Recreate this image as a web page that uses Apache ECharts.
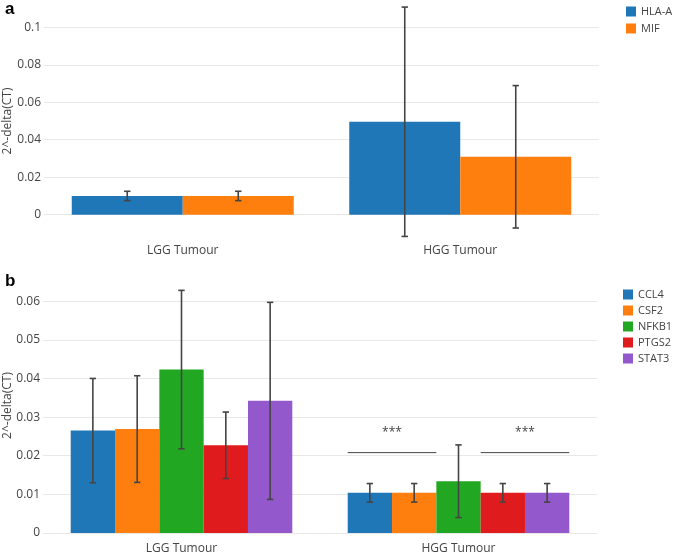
<!DOCTYPE html>
<html>
<head>
<meta charset="utf-8">
<script src="https://cdn.jsdelivr.net/npm/echarts@6/dist/echarts.min.js"></script>
<style>
html,body{margin:0;padding:0;background:#fff;}
#chart{width:676px;height:554px;}
</style>
</head>
<body>
<div id="chart"></div>
<script>
// ---- Data ----
const categoriesA = ['LGG Tumour', 'HGG Tumour'];
const seriesNamesA = ['HLA-A', 'MIF'];
const hlaA = [0.0100, 0.0496];
const hlaAErr = [0.0025, 0.0612];
const mif = [0.0100, 0.0309];
const mifErr = [0.0025, 0.0380];

const categoriesB = ['LGG Tumour', 'HGG Tumour'];
const seriesNamesB = ['CCL4', 'CSF2', 'NFKB1', 'PTGS2', 'STAT3'];
const ccl4 = [0.0265, 0.0104];
const ccl4Err = [0.0135, 0.0024];
const csf2 = [0.0269, 0.0104];
const csf2Err = [0.0138, 0.0024];
const nfkb1 = [0.0423, 0.0134];
const nfkb1Err = [0.0205, 0.0094];
const ptgs2 = [0.0227, 0.0104];
const ptgs2Err = [0.0086, 0.0024];
const stat3 = [0.0342, 0.0104];
const stat3Err = [0.0255, 0.0024];

// significance brackets: [category index, first bar, last bar, level]
const sigBrackets = [[1, 0, 1, 0.0208], [1, 3, 4, 0.0208]];
const sigLabel = '***';

const yTickLabelsA = ['0', '0.02', '0.04', '0.06', '0.08', '0.1'];
const yTickLabelsB = ['0', '0.01', '0.02', '0.03', '0.04', '0.05', '0.06'];

// ---- Styling ----
const colorsA = ['#1f77b8', '#ff7f0e'];
const colorsB = ['#1f77b8', '#ff7f0e', '#22a722', '#e01b1d', '#9358cb'];
const FONT = '"Open Sans", "DejaVu Sans", sans-serif';
const ERR_COLOR = '#444';

function errRender(nBars, barIdx) {
  return function (params, api) {
    const ci = api.value(0), v = api.value(1), e = api.value(2);
    const c = api.coord([ci, v]);
    const band = api.size([1, 0])[0];
    const bw = band * 0.8 / nBars;
    const x = c[0] + (barIdx - (nBars - 1) / 2) * bw;
    const yt = api.coord([ci, v + e])[1];
    const yb = api.coord([ci, v - e])[1];
    const st = {stroke: ERR_COLOR, lineWidth: 1.6};
    const cap = 3.2;
    return {type: 'group', children: [
      {type: 'line', shape: {x1: x, y1: yt, x2: x, y2: yb}, style: st},
      {type: 'line', shape: {x1: x - cap, y1: yt, x2: x + cap, y2: yt}, style: st},
      {type: 'line', shape: {x1: x - cap, y1: yb, x2: x + cap, y2: yb}, style: st}
    ]};
  };
}

function sigRender(nBars) {
  return function (params, api) {
    const ci = api.value(0), b0 = api.value(1), b1 = api.value(2), lv = api.value(3);
    const c = api.coord([ci, lv]);
    const band = api.size([1, 0])[0];
    const bw = band * 0.8 / nBars;
    const left = c[0] - band * 0.4;
    const x1 = left + b0 * bw, x2 = left + (b1 + 1) * bw;
    return {type: 'group', children: [
      {type: 'line', shape: {x1: x1, y1: c[1], x2: x2, y2: c[1]}, style: {stroke: '#444', lineWidth: 1}},
      {type: 'text', style: {text: sigLabel, x: (x1 + x2) / 2, y: c[1] - 20, textAlign: 'center', textVerticalAlign: 'middle', fill: '#444', font: '12px ' + FONT}}
    ]};
  };
}

const series = [];
const valsA = [hlaA, mif], errsA = [hlaAErr, mifErr];
seriesNamesA.forEach((n, i) => {
  series.push({name: n, type: 'bar', xAxisIndex: 0, yAxisIndex: 0, data: valsA[i],
    barGap: '0%', barCategoryGap: '20%', itemStyle: {color: colorsA[i]}, silent: true});
});
seriesNamesA.forEach((n, i) => {
  series.push({type: 'custom', xAxisIndex: 0, yAxisIndex: 0, z: 5, silent: true,
    renderItem: errRender(seriesNamesA.length, i),
    data: categoriesA.map((c, k) => [k, valsA[i][k], errsA[i][k]])});
});
const valsB = [ccl4, csf2, nfkb1, ptgs2, stat3], errsB = [ccl4Err, csf2Err, nfkb1Err, ptgs2Err, stat3Err];
seriesNamesB.forEach((n, i) => {
  series.push({name: n, type: 'bar', xAxisIndex: 1, yAxisIndex: 1, data: valsB[i],
    barGap: '0%', barCategoryGap: '20%', itemStyle: {color: colorsB[i]}, silent: true});
});
seriesNamesB.forEach((n, i) => {
  series.push({type: 'custom', xAxisIndex: 1, yAxisIndex: 1, z: 5, silent: true,
    renderItem: errRender(seriesNamesB.length, i),
    data: categoriesB.map((c, k) => [k, valsB[i][k], errsB[i][k]])});
});
series.push({type: 'custom', xAxisIndex: 1, yAxisIndex: 1, z: 5, silent: true, clip: false,
  renderItem: sigRender(seriesNamesB.length), data: sigBrackets});

function yLabelFmt(labels) {
  return function (v) {
    for (const l of labels) { if (Math.abs(parseFloat(l) - v) < 1e-9) return l; }
    return '';
  };
}

const axisTextStyle = {color: '#444', fontSize: 12, fontFamily: FONT};

const option = {
  animation: false,
  backgroundColor: '#fff',
  title: [
    {text: 'a', left: 0, top: -4, textStyle: {fontSize: 17, fontWeight: 'bold', color: '#000', fontFamily: '"Liberation Sans", Arial, sans-serif'}},
    {text: 'b', left: 0, top: 268, textStyle: {fontSize: 17, fontWeight: 'bold', color: '#000', fontFamily: '"Liberation Sans", Arial, sans-serif'}}
  ],
  legend: [
    {data: seriesNamesA, orient: 'vertical', left: 621, top: 1, itemWidth: 10, itemHeight: 10, itemGap: 6, icon: 'rect',
      textStyle: {color: '#444', fontSize: 11, fontFamily: FONT}, selectedMode: false},
    {data: seriesNamesB, orient: 'vertical', left: 618, top: 284, itemWidth: 10, itemHeight: 10, itemGap: 5, icon: 'rect',
      textStyle: {color: '#444', fontSize: 11, fontFamily: FONT}, selectedMode: false}
  ],
  grid: [
    {left: 44, top: 2, width: 555, height: 238, outerBoundsMode: 'none', containLabel: false},
    {left: 43, top: 278, width: 554, height: 255, outerBoundsMode: 'none', containLabel: false}
  ],
  xAxis: [
    {type: 'category', gridIndex: 0, data: categoriesA, axisLine: {show: false}, axisTick: {show: false},
      axisLabel: Object.assign({margin: 5}, axisTextStyle)},
    {type: 'category', gridIndex: 1, data: categoriesB, axisLine: {show: false}, axisTick: {show: false},
      axisLabel: Object.assign({margin: 10}, axisTextStyle)}
  ],
  yAxis: [
    {type: 'value', gridIndex: 0, min: -0.0135, max: 0.1135, minInterval: 0.02, maxInterval: 0.02, splitNumber: 6,
      name: '2^-delta(CT)', nameLocation: 'middle', nameGap: 30, nameMoveOverlap: false, nameTextStyle: axisTextStyle,
      axisLine: {show: false}, axisTick: {show: false},
      axisLabel: Object.assign({margin: 3, showMinLabel: false, showMaxLabel: false, formatter: yLabelFmt(yTickLabelsA)}, axisTextStyle),
      splitLine: {show: true, showMinLine: false, showMaxLine: false, lineStyle: {color: '#e8e8e8', width: 1}}},
    {type: 'value', gridIndex: 1, min: 0, max: 0.066, interval: 0.01,
      name: '2^-delta(CT)', nameLocation: 'middle', nameGap: 29, nameMoveOverlap: false, nameTextStyle: axisTextStyle,
      axisLine: {show: false}, axisTick: {show: false},
      axisLabel: Object.assign({margin: 3, showMaxLabel: false, formatter: yLabelFmt(yTickLabelsB)}, axisTextStyle),
      splitLine: {show: true, showMaxLine: false, lineStyle: {color: '#e8e8e8', width: 1}}}
  ],
  series: series
};

const chart = echarts.init(document.getElementById('chart'), null, {renderer: 'canvas'});
chart.setOption(option);
</script>
</body>
</html>
